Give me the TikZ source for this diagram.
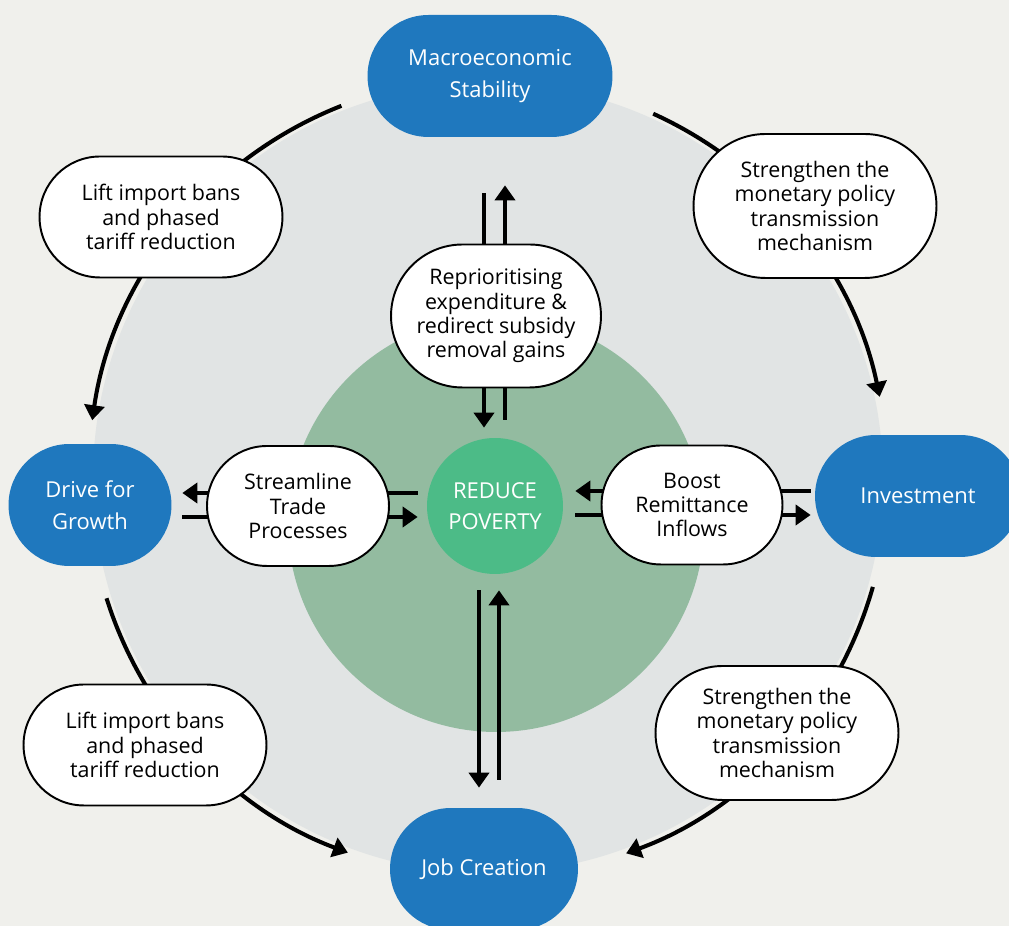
\documentclass[tikz,border=0pt]{standalone}
\usepackage{fontspec}
\setmainfont{Open Sans}
\usetikzlibrary{shapes.misc,arrows.meta}

\definecolor{bgcol}{HTML}{F0F0EC}
\definecolor{ringgrey}{HTML}{E1E4E4}
\definecolor{innergreen}{HTML}{93BBA0}
\definecolor{coregreen}{HTML}{4CBB87}
\definecolor{pillblue}{HTML}{1F78BE}

\tikzset{
  goal/.style={rounded rectangle, fill=pillblue, text=white, align=center,
    font=\fontsize{12.5}{18}\selectfont, minimum height=2.44cm, inner sep=0pt},
  action/.style={rounded rectangle, draw=black, line width=1.1pt, fill=white,
    align=center, font=\fontsize{12.2}{13.8}\selectfont, inner sep=0pt},
  flow/.style={line width=2.3pt, -{Triangle[length=3mm,width=4mm]}}
}

\begin{document}
\begin{tikzpicture}[x=0.02cm,y=0.02cm]
    \clip (0,0) rectangle (1009,926);
    \fill[bgcol] (0,0) rectangle (1009,926);

    \coordinate (hub) at (488,448);
    \fill[ringgrey] (hub) circle[radius=395];
    \fill[innergreen] (496,402) circle[radius=208];

    \node[circle, fill=coregreen, text=white, minimum size=2.72cm, inner sep=0pt,
      align=center, font=\fontsize{12.5}{17.5}\selectfont] (core) at (495,420) {REDUCE\\POVERTY};

    \node[goal, minimum width=4.9cm] (macro) at (490,850) {Macroeconomic\\Stability};
    \node[goal, minimum width=3.26cm] (drive) at (90,421) {Drive for\\Growth};
    \node[goal, minimum width=4.12cm] (invest) at (918,430) {Investment};
    \node[goal, minimum width=3.76cm] (job) at (484,57) {Job Creation};

    % outer ring
    \path (hub) ++(111.5:400) coordinate (tl start);
    \path (hub) ++(65.6:400) coordinate (tr start);
    \path (hub) ++(-15.8:400) coordinate (br start);
    \path (hub) ++(197.5:400) coordinate (bl start);
    \draw[flow] (tl start) arc[start angle=111.5, end angle=171.7, radius=400];
    \draw[flow] (tr start) arc[start angle=65.6, end angle=11.7, radius=400];
    \draw[flow] (br start) arc[start angle=-15.8, end angle=-69.8, radius=400];
    \draw[flow] (bl start) arc[start angle=197.5, end angle=249.5, radius=400];

    % to and from the core
    \draw[flow] ([shift={(-6,-56)}]macro.south) -- ([shift={(-11,10)}]core.north);
    \draw[flow] ([shift={(10,18)}]core.north) -- ([shift={(15,-48)}]macro.south);
    \draw[flow] ([shift={(-9,13)}]core.west) -- ([shift={(10.5,12)}]drive.east);
    \draw[flow] ([shift={(10.5,-12)}]drive.east) -- ([shift={(-9,-11)}]core.west);
    \draw[flow] ([shift={(-4,5)}]invest.west) -- ([shift={(12,15)}]core.east);
    \draw[flow] ([shift={(12,-9)}]core.east) -- ([shift={(-4,-19)}]invest.west);
    \draw[flow] ([shift={(-16,-16)}]core.south) -- ([shift={(-5,20)}]job.north);
    \draw[flow] ([shift={(15,28)}]job.north) -- ([shift={(4,-16)}]core.south);

    \node[action, minimum width=4.86cm, minimum height=2.42cm] (lift top) at (161,709)
      {Lift import bans\\and phased\\tariff reduction};
    \node[action, minimum width=4.86cm, minimum height=2.88cm] (strength top) at (815,720)
      {Strengthen the\\monetary policy\\transmission\\mechanism};
    \node[action, minimum width=4.2cm, minimum height=2.86cm] (reprio) at (496,610)
      {Reprioritising\\expenditure \&\\redirect subsidy\\removal gains};
    \node[action, minimum width=3.64cm, minimum height=2.4cm] (stream) at (298,420)
      {Streamline\\Trade\\Processes};
    \node[action, minimum width=3.62cm, minimum height=2.38cm] (boost) at (692,421)
      {Boost\\Remittance\\Inflows};
    \node[action, minimum width=4.86cm, minimum height=2.42cm] (lift bot) at (145,181)
      {Lift import bans\\and phased\\tariff reduction};
    \node[action, minimum width=4.86cm, minimum height=2.68cm] (strength bot) at (777,193)
      {Strengthen the\\monetary policy\\transmission\\mechanism};
\end{tikzpicture}
\end{document}
